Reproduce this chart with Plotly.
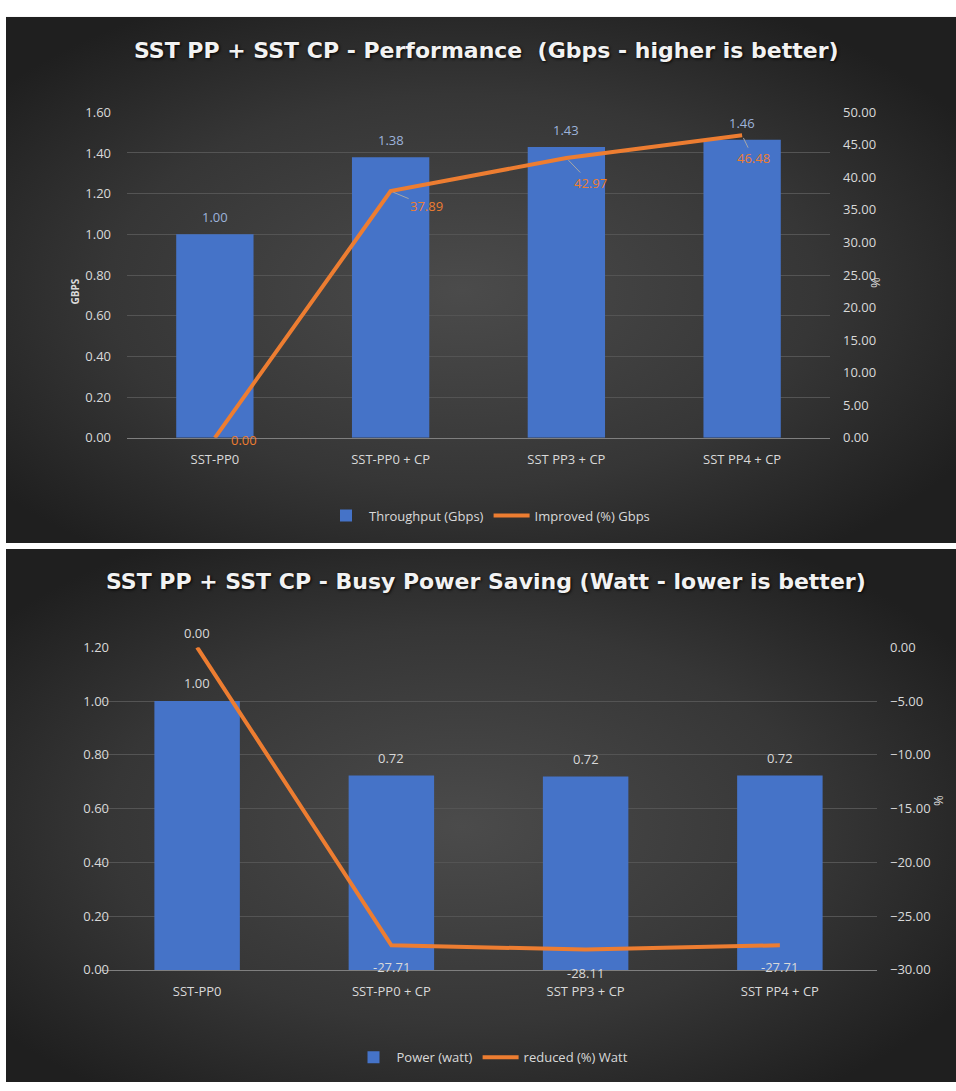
import base64
import plotly.graph_objects as go

# ---------------- data ----------------
categories = ["SST-PP0", "SST-PP0 + CP", "SST PP3 + CP", "SST PP4 + CP"]
throughput_gbps = [1.00, 1.3789, 1.4297, 1.4648]
improved_pct = [0.00, 37.89, 42.97, 46.48]
power_watt = [1.00, 0.7229, 0.7189, 0.7229]
reduced_pct = [0.00, -27.71, -28.11, -27.71]

top_title = "SST PP + SST CP - Performance  (Gbps - higher is better)"
bottom_title = "SST PP + SST CP - Busy Power Saving (Watt - lower is better)"
top_bar_name = "Throughput (Gbps)"
top_line_name = "Improved (%) Gbps"
bottom_bar_name = "Power (watt)"
bottom_line_name = "reduced (%) Watt"

# ---------------- styles ----------------
W, H = 956, 1091
BLUE = "#4573C8"
ORANGE = "#ED7D31"
TXT = "#D9D9D9"
GRID = "#545454"
FONT = "Open Sans"
TITLE_FONT = "DejaVu Sans"

# label offsets (pixels) for top line labels: (ax, ay, leader)
top_line_label_offsets = [(29, 2, False), (36, 15, True), (24, 25, True), (11, 23, True)]
bottom_line_label_shift = [14, -22, -23, -22]


def px_x(p):
    return p / W


def px_y(p):
    return 1 - p / H


def panel_svg(w, h):
    svg = (
        f'<svg xmlns="http://www.w3.org/2000/svg" width="{w}" height="{h}" '
        f'viewBox="0 0 {w} {h}" preserveAspectRatio="none">'
        '<defs><radialGradient id="g" cx="48%" cy="52%" r="62%">'
        '<stop offset="0%" stop-color="#4b4b4b"/>'
        '<stop offset="60%" stop-color="#363636"/>'
        '<stop offset="100%" stop-color="#1f1f1f"/>'
        '</radialGradient></defs>'
        f'<rect width="{w}" height="{h}" fill="url(#g)"/></svg>'
    )
    return "data:image/svg+xml;base64," + base64.b64encode(svg.encode()).decode()


fig = go.Figure()

# top chart
fig.add_trace(go.Bar(
    x=categories, y=throughput_gbps, name=top_bar_name,
    marker=dict(color=BLUE, line=dict(width=0)),
    xaxis="x", yaxis="y", legend="legend",
))
fig.add_trace(go.Scatter(
    x=categories, y=improved_pct, name=top_line_name, mode="lines",
    line=dict(color=ORANGE, width=4),
    xaxis="x", yaxis="y2", legend="legend",
))

# bottom chart
fig.add_trace(go.Bar(
    x=categories, y=power_watt, name=bottom_bar_name,
    marker=dict(color=BLUE, line=dict(width=0)),
    xaxis="x2", yaxis="y3", legend="legend2",
))
fig.add_trace(go.Scatter(
    x=categories, y=reduced_pct, name=bottom_line_name, mode="lines",
    line=dict(color=ORANGE, width=4),
    xaxis="x2", yaxis="y4", legend="legend2",
))

annotations = []

# titles
for txt, ypix in [(top_title, 42), (bottom_title, 582)]:
    annotations.append(dict(
        text=txt, xref="paper", yref="paper", x=px_x(486), y=px_y(ypix),
        showarrow=False, xanchor="center", yanchor="middle",
        font=dict(family=TITLE_FONT, size=22, color="#F2F2F2", weight="bold",
                  shadow="1px 1px 3px rgba(0,0,0,0.9)"),
    ))

# top bar labels
for c, v in zip(categories, throughput_gbps):
    annotations.append(dict(
        x=c, y=v, xref="x", yref="y", text=f"{v:.2f}", showarrow=False,
        yshift=17, font=dict(family=FONT, size=13, color="#9DB3DB"),
    ))
# top line labels
for c, v, (ax, ay, leader) in zip(categories, improved_pct, top_line_label_offsets):
    if leader:
        annotations.append(dict(
            x=c, y=v, xref="x", yref="y2", text=f"{v:.2f}", showarrow=True,
            axref="pixel", ayref="pixel", ax=ax, ay=ay,
            arrowhead=0, arrowwidth=1, arrowcolor="#A6A6A6", standoff=3,
            font=dict(family=FONT, size=13, color=ORANGE),
        ))
    else:
        annotations.append(dict(
            x=c, y=v, xref="x", yref="y2", text=f"{v:.2f}", showarrow=False,
            xshift=ax, yshift=-ay, font=dict(family=FONT, size=13, color=ORANGE),
        ))

# bottom bar labels
for c, v in zip(categories, power_watt):
    annotations.append(dict(
        x=c, y=v, xref="x2", yref="y3", text=f"{v:.2f}", showarrow=False,
        yshift=18, font=dict(family=FONT, size=13, color=TXT),
    ))
# bottom line labels
for c, v, s in zip(categories, reduced_pct, bottom_line_label_shift):
    annotations.append(dict(
        x=c, y=v, xref="x2", yref="y4", text=f"{v:.2f}", showarrow=False,
        yshift=s, font=dict(family=FONT, size=13, color=TXT),
    ))

# axis titles
annotations.append(dict(
    text="<b>GBPS</b>", xref="paper", yref="paper", x=px_x(66), y=px_y(272),
    showarrow=False, textangle=-90, font=dict(family=FONT, size=10, color=TXT),
))
annotations.append(dict(
    text="%", xref="paper", yref="paper", x=px_x(886), y=px_y(271),
    showarrow=False, textangle=-90, font=dict(family=FONT, size=13, color=TXT),
))
annotations.append(dict(
    text="%", xref="paper", yref="paper", x=px_x(949), y=px_y(813),
    showarrow=False, textangle=-90, font=dict(family=FONT, size=13, color=TXT),
))

tickfont = dict(family=FONT, size=13, color=TXT)
xcommon = dict(showgrid=False, showline=True, linecolor="#7F7F7F", linewidth=1,
               ticks="", tickfont=dict(family=FONT, size=13, color=TXT),
               ticklabelstandoff=10, fixedrange=True)
ycommon = dict(showgrid=True, gridcolor=GRID, gridwidth=1, zeroline=False,
               showline=False, ticks="", tickfont=tickfont, tickformat=".2f")

fig.update_layout(
    width=W, height=H,
    margin=dict(l=0, r=0, t=0, b=0),
    paper_bgcolor="white", plot_bgcolor="rgba(0,0,0,0)",
    bargap=0.56, showlegend=True,
    xaxis=dict(domain=[px_x(127), px_x(830)], anchor="y", **xcommon),
    yaxis=dict(domain=[px_y(436), px_y(105)], range=[0, 1.6], dtick=0.2,
               ticklabelstandoff=15, **ycommon),
    yaxis2=dict(overlaying="y", side="right", anchor="x", range=[0, 50], dtick=5,
                ticklabelstandoff=12, **{**ycommon, "showgrid": False}),
    xaxis2=dict(domain=[px_x(100), px_x(877)], anchor="y3", **xcommon),
    yaxis3=dict(domain=[px_y(977), px_y(649)], range=[0, 1.2], dtick=0.2,
                ticklabelstandoff=17, **ycommon),
    yaxis4=dict(overlaying="y3", side="right", anchor="x2", range=[-30, 0], dtick=5,
                ticklabelstandoff=12, **{**ycommon, "showgrid": False}),
    legend=dict(orientation="h", x=px_x(489), y=px_y(515), xanchor="center",
                yanchor="middle", bgcolor="rgba(0,0,0,0)",
                font=dict(family=FONT, size=13, color=TXT), itemwidth=36),
    legend2=dict(orientation="h", x=px_x(492), y=px_y(1066), xanchor="center",
                 yanchor="middle", bgcolor="rgba(0,0,0,0)",
                 font=dict(family=FONT, size=13, color=TXT), itemwidth=36),
    annotations=annotations,
    images=[
        dict(source=panel_svg(950, 535), xref="paper", yref="paper",
             x=px_x(6), y=px_y(8), sizex=950 / W, sizey=535 / H,
             xanchor="left", yanchor="top", sizing="stretch", layer="below"),
        dict(source=panel_svg(950, 542), xref="paper", yref="paper",
             x=px_x(6), y=px_y(549), sizex=950 / W, sizey=542 / H,
             xanchor="left", yanchor="top", sizing="stretch", layer="below"),
    ],
)

fig.write_html(
    "out.html",
    config={"displayModeBar": False},
    post_script="document.body.style.margin='0';document.body.style.overflow='hidden';",
)
